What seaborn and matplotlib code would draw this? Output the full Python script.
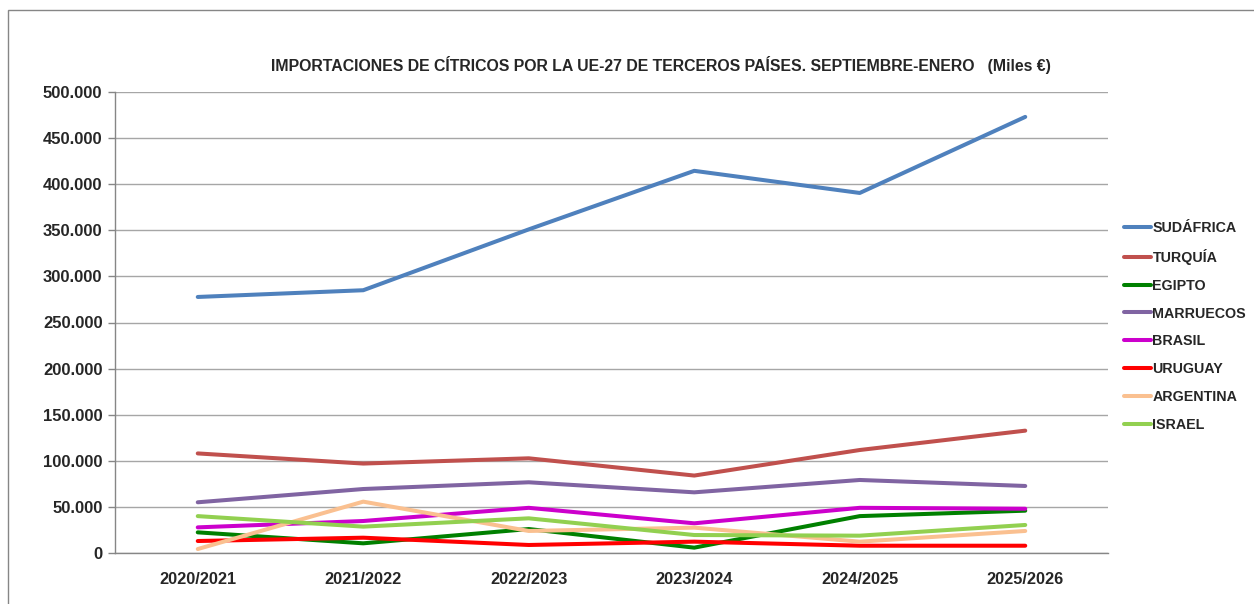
import matplotlib
matplotlib.use("Agg")
import matplotlib.pyplot as plt
from matplotlib.patches import Rectangle
from matplotlib.ticker import FuncFormatter, FixedLocator
import pandas as pd
import seaborn as sns

CAMPANAS = ["2020/2021", "2021/2022", "2022/2023", "2023/2024", "2024/2025", "2025/2026"]
PAISES = ["SUDÁFRICA", "TURQUÍA", "EGIPTO", "MARRUECOS", "BRASIL", "URUGUAY", "ARGENTINA", "ISRAEL"]

SUDAFRICA = [277700, 285000, 351000, 414500, 390500, 473000]
TURQUIA = [108000, 97000, 102700, 84000, 111700, 132700]
EGIPTO = [22400, 10500, 26000, 5800, 40000, 45900]
MARRUECOS = [55000, 69400, 76700, 65800, 79200, 72700]
BRASIL = [27800, 34700, 49000, 32200, 49000, 48000]
URUGUAY = [13000, 16600, 8700, 12300, 7900, 7900]
ARGENTINA = [4300, 55700, 23900, 27500, 12300, 23900]
ISRAEL = [40000, 28600, 37600, 19500, 18800, 30400]

COLORES = ["#4F81BD", "#C0504D", "#008000", "#8064A2", "#CC00CC", "#FF0000", "#FAC090", "#92D050"]

series = [SUDAFRICA, TURQUIA, EGIPTO, MARRUECOS, BRASIL, URUGUAY, ARGENTINA, ISRAEL]
df = pd.DataFrame(
    [(c, p, v) for p, vals in zip(PAISES, series) for c, v in zip(CAMPANAS, vals)],
    columns=["campana", "pais", "valor"],
)

sns.set_style("white")
plt.rcParams["font.family"] = ["Liberation Sans", "DejaVu Sans"]

fig = plt.figure(figsize=(12.54, 6.04), dpi=100, facecolor="white")
ax = fig.add_axes([115 / 1254, 1 - 553 / 604, (1108 - 115) / 1254, (553 - 92) / 604])

sns.lineplot(
    data=df, x="campana", y="valor", hue="pais", hue_order=PAISES,
    palette=COLORES, linewidth=2.9, sort=False, ax=ax,
)

ax.set_xlim(-0.5, 5.5)
ax.set_ylim(0, 500000)
ax.set_yticks(range(0, 500001, 50000))
ax.yaxis.set_major_formatter(FuncFormatter(lambda v, _: f"{int(v):,}".replace(",", ".")))
ax.grid(axis="y", color="#A6A6A6", linewidth=1)
ax.set_axisbelow(True)
ax.set_xlabel("")
ax.set_ylabel("")

ax.xaxis.set_minor_locator(FixedLocator([i - 0.5 for i in range(7)]))
ax.tick_params(axis="x", which="major", length=0, pad=14)
ax.tick_params(axis="x", which="minor", length=6, color="#868686", width=1)
ax.tick_params(axis="y", length=5, color="#868686", width=1, left=True, pad=4)
for lbl in ax.get_xticklabels():
    lbl.set_fontweight("bold")
    lbl.set_fontsize(11.8)
for lbl in ax.get_yticklabels():
    lbl.set_fontweight("bold")
    lbl.set_fontsize(12)

for side in ("top", "right"):
    ax.spines[side].set_visible(False)
for side in ("left", "bottom"):
    ax.spines[side].set_color("#868686")
    ax.spines[side].set_linewidth(1)

ax.set_title(
    "IMPORTACIONES DE CÍTRICOS POR LA UE-27 DE TERCEROS PAÍSES. SEPTIEMBRE-ENERO   (Miles €)",
    fontsize=11.4, fontweight="bold", pad=15, x=0.55,
)

handles, labels = ax.get_legend_handles_labels()
ax.legend(
    handles, labels, loc="upper left", bbox_to_anchor=(1111 / 1254, 1 - 208 / 604),
    bbox_transform=fig.transFigure, frameon=False, handlelength=1.9, handletextpad=0.1,
    labelspacing=0.97, prop={"weight": "bold", "size": 10.3},
)

fig.patches.append(Rectangle((8 / 1254, -0.01), 1.02, 1 - 10 / 604 + 0.01,
                             transform=fig.transFigure, fill=False,
                             edgecolor="#868686", linewidth=1))

fig.savefig("out.png", dpi=100, facecolor=fig.get_facecolor())
plt.close(fig)
